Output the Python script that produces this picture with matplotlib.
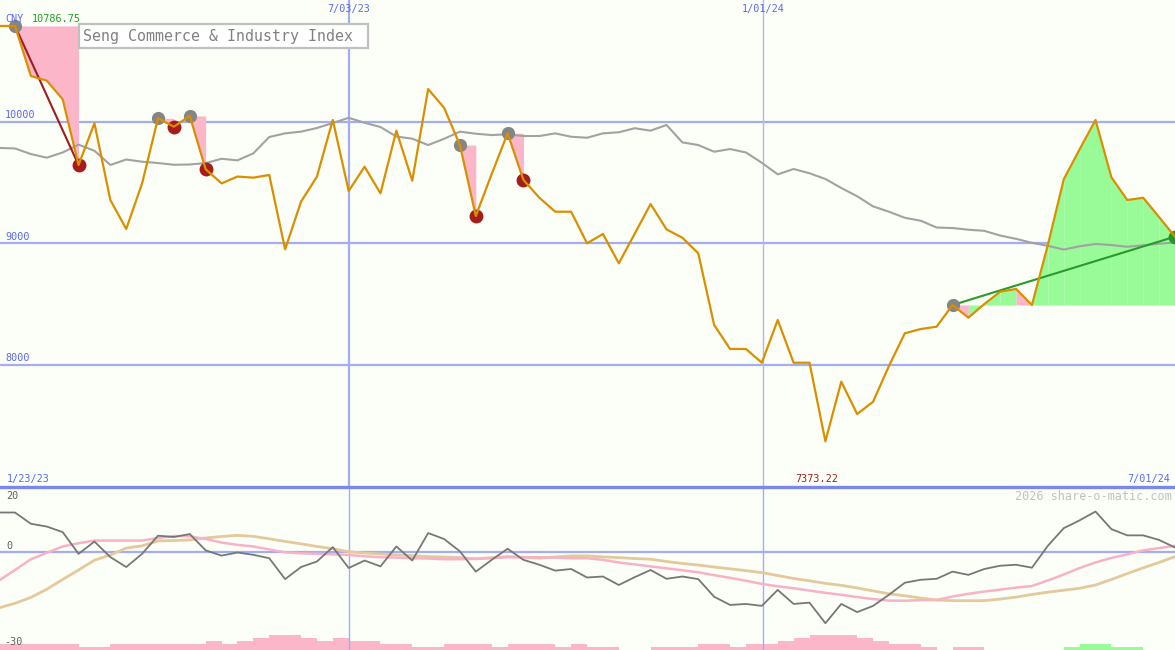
import matplotlib
matplotlib.use('Agg')
import matplotlib.pyplot as plt
from matplotlib.patches import Rectangle
from matplotlib.transforms import blended_transform_factory
import numpy as np

# ---------------- data ----------------
title = "Seng Commerce & Industry Index"
currency = "CNY"
start_label = "1/23/23"
end_label = "7/01/24"
vdate_labels = ["7/03/23", "1/01/24"]
vdate_pos = [21.0, 47.1]          # position on the weekly index axis
price_levels = [8000, 9000, 10000]
osc_labels = [20, 0, -30]

# weekly index k = -1 .. 73
price = [10786.75, 10786.75, 10375, 10337, 10184, 9644, 9987, 9356, 9118, 9493,
         10028, 9959, 10047, 9609, 9493, 9549, 9540, 9562, 8951, 9342,
         9548, 10014, 9430, 9630, 9411, 9926, 9515, 10268, 10115, 9808,
         9225, 9570, 9904, 9521, 9375, 9260, 9260, 9000, 9077, 8836,
         9079, 9323, 9115, 9046, 8918, 8329, 8132, 8132, 8019, 8370,
         8019, 8019, 7373.22, 7863, 7597, 7698, 7992, 8261, 8296, 8315,
         8493, 8389, 8501, 8603, 8625, 8493, 8986, 9526, 9773, 10014,
         9543, 9356, 9375, 9216, 9055]
moving_avg = [9784, 9780, 9734, 9704, 9747, 9811, 9761, 9644, 9689, 9671,
              9660, 9646, 9648, 9660, 9695, 9682, 9740, 9874, 9904, 9918,
              9948, 9989, 10032, 9991, 9956, 9878, 9860, 9808, 9859, 9918,
              9901, 9890, 9896, 9882, 9882, 9904, 9876, 9868, 9904, 9913,
              9946, 9926, 9973, 9830, 9808, 9753, 9775, 9747, 9662, 9567,
              9611, 9576, 9529, 9455, 9387, 9304, 9260, 9210, 9186, 9130,
              9126, 9112, 9103, 9064, 9037, 9004, 8980, 8949, 8976, 8995,
              8986, 8972, 8984, 8997, 9007]
oscillator = [12.1, 12.1, 8.65, 7.8, 6.1, -0.55, 3.2, -1.55, -4.6, -0.55,
              5.0, 4.6, 5.5, 0.5, -1.1, -0.15, -0.85, -1.9, -8.3, -4.6,
              -2.9, 1.5, -4.9, -2.6, -4.4, 1.7, -2.6, 5.8, 4.0, 0.2,
              -6.0, -2.4, 1.0, -2.4, -3.9, -5.7, -5.2, -7.8, -7.5, -10.1,
              -7.7, -5.5, -8.2, -7.5, -8.3, -13.7, -16.2, -15.9, -16.5, -11.6,
              -15.9, -15.5, -21.8, -15.9, -18.4, -16.5, -13.1, -9.4, -8.5, -8.2,
              -6.0, -7.0, -5.2, -4.2, -3.9, -4.8, 1.9, 7.3, 9.7, 12.4,
              7.0, 5.1, 5.1, 3.7, 1.4]
signal_fast = [-8.7, -5.5, -2.2, -0.25, 1.7, 2.7, 3.5, 3.5, 3.5, 3.5,
               4.3, 4.9, 4.8, 4.0, 2.9, 2.2, 1.7, 0.8, -0.1, -0.4,
               -0.55, -0.7, -0.9, -1.3, -1.6, -1.7, -1.9, -2.0, -2.2, -2.2,
               -2.1, -1.9, -1.6, -1.6, -1.6, -1.7, -1.9, -1.9, -2.4, -3.2,
               -3.8, -4.4, -5.0, -5.6, -6.2, -7.1, -7.9, -8.8, -9.75, -10.5,
               -11.1, -11.8, -12.5, -13.1, -13.8, -14.4, -14.9, -14.9, -14.75, -14.7,
               -13.6, -12.8, -12.1, -11.5, -10.9, -10.4, -8.7, -6.9, -4.9, -3.2,
               -1.8, -0.7, 0.5, 1.2, 1.9]
signal_slow = [-17.1, -15.7, -13.9, -11.4, -8.4, -5.5, -2.5, -0.9, 1.2, 1.9,
               3.4, 3.5, 3.7, 4.3, 4.75, 5.1, 4.8, 4.05, 3.25, 2.5,
               1.7, 1.0, 0.1, -0.3, -0.6, -0.85, -1.1, -1.4, -1.5, -1.7,
               -2.1, -1.7, -1.4, -1.6, -1.9, -1.5, -1.2, -1.2, -1.5, -1.7,
               -2.0, -2.2, -2.9, -3.5, -4.0, -4.6, -5.15, -5.7, -6.3, -7.2,
               -8.1, -8.8, -9.6, -10.2, -11.0, -11.9, -12.8, -13.4, -14.1, -14.7,
               -14.9, -14.9, -14.9, -14.4, -13.8, -13.0, -12.3, -11.7, -11.1, -10.1,
               -8.4, -6.6, -4.85, -3.2, -1.4]
# bar per week k = -1 .. 72 (negative = pink, positive = green)
histogram = [-2, -2, -2, -2, -2, -1, -1, -2, -2, -2,
             -2, -2, -2, -3, -2, -3, -4, -5, -5, -4,
             -3, -4, -3, -3, -2, -2, -1, -1, -2, -2,
             -2, -1, -2, -2, -2, -1, -2, -1, -1, 0,
             0, -1, -1, -1, -2, -2, -1, -2, -2, -3,
             -4, -5, -5, -5, -4, -3, -2, -2, -1, 0,
             -1, -1, 0, 0, 0, 0, 0, 1, 2, 2,
             1, 1, 0, 0]

peak_idx = [0, 9, 11, 28, 31, 59]
drop_idx = [4, 10, 12, 29, 32]
drops = [(0, 4), (9, 10), (11, 12), (28, 29), (31, 32)]
rise = (59, 73)
rise_pink_segments = [59, 63]

# ---------------- styling ----------------
W, H = 1175, 650
BG = '#fcfef8'
GRID = '#a3adf0'
BLUE_TXT = '#5a68f0'
ORANGE = '#d99000'
PINK = '#fbb6c9'
GREEN_FILL = '#98fb98'
MONO = 'DejaVu Sans Mono'

k = np.arange(-1, 74)
P = dict(zip(k, price))

fig = plt.figure(figsize=(W / 100, H / 100), dpi=100, facecolor=BG)
low_h = 163.3 / H
main = fig.add_axes([0, low_h, 1, 1 - low_h])
barax = fig.add_axes([0, 0, 1, low_h])
lower = fig.add_axes([0, 0, 1, low_h])

xlim = (-15 / 15.89, (W - 15) / 15.89)
for ax in (main, barax, lower):
    ax.set_xlim(*xlim)
    ax.set_xticks([])
    ax.set_yticks([])
    for s in ax.spines.values():
        s.set_visible(False)
main.set_facecolor(BG)
barax.set_facecolor(BG)
lower.set_facecolor('none')
main.set_ylim(7000, 11000)
lower.set_ylim(-30, 20)
barax.set_ylim(0, 163.3 / 3)


def fpx(x, y):
    return x / W, 1 - y / H


# ---- main panel ----
tr_main = blended_transform_factory(main.transAxes, main.transData)
for lv in price_levels:
    main.axhline(lv, color=GRID, lw=1.6, zorder=1)
    main.text(5 / W, lv + 15, f"{lv}", transform=tr_main, ha='left', va='bottom',
              fontsize=7.3, family=MONO, color=BLUE_TXT, zorder=7)

main.axvline(vdate_pos[0], color=GRID, lw=1.6, zorder=1)
main.axvline(vdate_pos[1], color='#b2b8e0', lw=1.0, zorder=1)
for lab, pos in zip(vdate_labels, vdate_pos):
    main.text(pos, 11000 - 30, lab, ha='center', va='top', fontsize=7.3,
              family=MONO, color=BLUE_TXT, zorder=7)

for a, b in drops:
    xs = np.arange(a, b + 1)
    ys = [P[i] for i in xs]
    main.fill_between(xs, ys, P[a], color=PINK, lw=0, zorder=2)

level = P[rise[0]]
for s in range(rise[0], rise[1]):
    col = PINK if s in rise_pink_segments else GREEN_FILL
    main.fill_between([s, s + 1], [P[s], P[s + 1]], level, color=col, lw=0, zorder=2)

main.plot(k, moving_avg, color='#a2a2a2', lw=1.5, zorder=3)
main.plot([drops[0][0], drops[0][1]], [P[drops[0][0]], P[drops[0][1]]],
          color='#a01c1c', lw=1.5, zorder=4)
main.plot([rise[0], rise[1]], [P[rise[0]], P[rise[1]]], color='#2a9a2a', lw=1.5, zorder=4)
main.plot(peak_idx, [P[i] for i in peak_idx], 'o', color='#858585', ms=9.5, mew=0, zorder=4)
main.plot(drop_idx, [P[i] for i in drop_idx], 'o', color='#a51c1c', ms=10, mew=0, zorder=4)
main.plot([rise[1]], [P[rise[1]]], 'o', color='#229a22', ms=10, mew=0, zorder=4)
main.plot(k, price, color=ORANGE, lw=1.6, zorder=5)

# title box
main.add_patch(Rectangle(fpx(79, 48), 289 / W, 24 / H, transform=fig.transFigure,
                         fc='white', ec='#c0c0c0', lw=1.6, zorder=9, clip_on=False))
fig.text(*fpx(83, 36.5), title, ha='left', va='center', fontsize=10.7, family=MONO,
         color='#808080', zorder=10)
fig.text(*fpx(5, 19.5), currency, ha='left', va='center', fontsize=7.3, family=MONO,
         color=BLUE_TXT)
fig.text(*fpx(32, 19.5), f"{price[0]:.2f}", ha='left', va='center', fontsize=7.3,
         family=MONO, color='#22a022')
fig.text(*fpx(7, 479), start_label, ha='left', va='center', fontsize=7.3, family=MONO,
         color=BLUE_TXT)
fig.text(*fpx(1170, 479), end_label, ha='right', va='center', fontsize=7.3, family=MONO,
         color=BLUE_TXT)
fig.text(*fpx(817, 479), f"{min(price):.2f}", ha='center', va='center', fontsize=7.3,
         family=MONO, color='#a02020')

# ---- lower panel ----
lower.axhline(0, color=GRID, lw=1.6, zorder=1)
for pos in vdate_pos:
    lower.axvline(pos, color=GRID, lw=1.0, zorder=1)
lower.axhline(20, color='#7a88ee', lw=2.4, zorder=8, clip_on=False)
kb = np.arange(-1, 73)
bar_cols = [GREEN_FILL if v > 0 else PINK for v in histogram]
barax.bar(kb, np.abs(histogram), width=1.0, align='edge', color=bar_cols, lw=0)

lower.plot(k, signal_slow, color='#e3c99b', lw=2.0, zorder=2)
lower.plot(k, signal_fast, color='#f8b2c8', lw=1.8, zorder=3)
lower.plot(k, oscillator, color='#777777', lw=1.3, zorder=4)

ys_lab = [496, 546, 642]
xs_lab = [6, 6, 4]
for v, yy, xx in zip(osc_labels, ys_lab, xs_lab):
    fig.text(*fpx(xx, yy), f"{v}", ha='left', va='center', fontsize=7.3, family=MONO,
             color='#606060')
fig.text(*fpx(1172, 496), "2026 share-o-matic.com", ha='right', va='center',
         fontsize=8.6, family=MONO, color='#c2c2c2')

fig.savefig('out.png', dpi=100, facecolor=BG)
